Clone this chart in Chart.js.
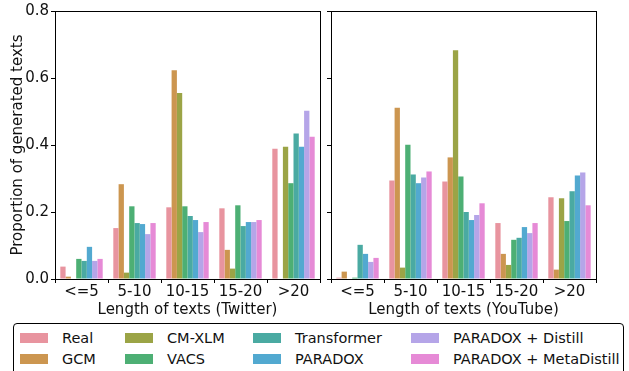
<!DOCTYPE html>
<html>
<head>
<meta charset="utf-8">
<script src="https://cdn.jsdelivr.net/npm/chart.js@4/dist/chart.umd.min.js"></script>
<style>
  body { margin: 0; background: #fff; font-family: "DejaVu Sans", sans-serif; }
  #wrap { position: relative; width: 629px; height: 371px; overflow: hidden; }
  #c1 { position: absolute; left: 0; top: 0; }
  #c2 { position: absolute; left: 320px; top: 0; }
  #legend {
    position: absolute; left: 13px; top: 323px; width: 611px; height: 60px;
    border: 1.5px solid #000; border-radius: 4px; box-sizing: border-box;
    display: grid; grid-template-columns: 105px 128px 158px auto; grid-template-rows: 21px 21px;
    padding: 3px 0 0 6px; font-size: 14.5px; color: #111;
  }
  .item { display: flex; align-items: center; white-space: nowrap; }
  .sw { width: 28px; height: 10px; margin-right: 14px; }
</style>
</head>
<body>
<div id="wrap">
  <canvas id="c1" width="325" height="320"></canvas>
  <canvas id="c2" width="309" height="320"></canvas>
  <div id="legend"></div>
</div>
<script>
// categorías de longitud
const categorias = ['<=5', '5-10', '10-15', '15-20', '>20'];
const series = ['Real', 'GCM', 'CM-XLM', 'VACS', 'Transformer', 'PARADOX', 'PARADOX + Distill', 'PARADOX + MetaDistill'];
const colores = ['#e8949f', '#cc9650', '#9ba446', '#4daf74', '#4aaaa2', '#52a9d0', '#b5a5e8', '#e68ad6'];

// Twitter
const twReal    = [0.037, 0.152, 0.214, 0.211, 0.389];
const twGCM     = [0.007, 0.283, 0.623, 0.087, 0.0];
const twCMXLM   = [0.0,   0.019, 0.555, 0.031, 0.395];
const twVACS    = [0.060, 0.217, 0.217, 0.220, 0.286];
const twTrans   = [0.054, 0.167, 0.188, 0.158, 0.434];
const twParadox = [0.096, 0.164, 0.176, 0.170, 0.395];
const twDistill = [0.054, 0.134, 0.140, 0.170, 0.502];
const twMeta    = [0.060, 0.167, 0.170, 0.176, 0.425];

// YouTube
const ytReal    = [0.004, 0.294, 0.291, 0.167, 0.244];
const ytGCM     = [0.022, 0.511, 0.363, 0.075, 0.028];
const ytCMXLM   = [0.0,   0.034, 0.683, 0.042, 0.241];
const ytVACS    = [0.004, 0.401, 0.306, 0.117, 0.173];
const ytTrans   = [0.102, 0.312, 0.200, 0.123, 0.262];
const ytParadox = [0.075, 0.286, 0.176, 0.155, 0.309];
const ytDistill = [0.051, 0.303, 0.191, 0.137, 0.318];
const ytMeta    = [0.063, 0.321, 0.226, 0.167, 0.220];

const twitter = [twReal, twGCM, twCMXLM, twVACS, twTrans, twParadox, twDistill, twMeta];
const youtube = [ytReal, ytGCM, ytCMXLM, ytVACS, ytTrans, ytParadox, ytDistill, ytMeta];

const fuente = { family: 'DejaVu Sans', size: 15 };

// marco completo alrededor del área del gráfico
const marco = {
    id: 'marco',
    afterDraw(chart) {
        const a = chart.chartArea;
        const ctx = chart.ctx;
        ctx.save();
        ctx.strokeStyle = '#000';
        ctx.lineWidth = 1;
        ctx.strokeRect(Math.round(a.left) + 0.5, Math.round(a.top) + 0.5, Math.round(a.right - a.left), Math.round(a.bottom - a.top));
        ctx.restore();
    }
};

function crearGrafico(id, valores, tituloX, conEtiquetasY, anchoY, padDerecha) {
    return new Chart(document.getElementById(id), {
        type: 'bar',
        data: {
            labels: categorias,
            datasets: series.map((s, i) => ({
                label: s,
                data: valores[i],
                backgroundColor: colores[i],
                borderWidth: 0,
                categoryPercentage: 0.8,
                barPercentage: 1.0
            }))
        },
        options: {
            responsive: false,
            animation: false,
            layout: { padding: { top: 9, right: padDerecha, left: 0, bottom: 1 } },
            plugins: { legend: { display: false }, tooltip: { enabled: false } },
            scales: {
                x: {
                    grid: { display: true, drawOnChartArea: false, drawTicks: true, tickLength: 4, color: '#000' },
                    border: { display: false },
                    ticks: { color: '#111', font: fuente, padding: 0, maxRotation: 0 },
                    title: { display: true, text: tituloX, color: '#111', font: fuente, padding: { top: 0, bottom: 0 } },
                    afterFit(scale) { scale.height = 40; }
                },
                y: {
                    min: 0, max: 0.8,
                    grid: { display: true, drawOnChartArea: false, drawTicks: true, tickLength: 4, color: '#000' },
                    border: { display: false },
                    ticks: {
                        stepSize: 0.2, color: '#111', font: fuente, padding: 2,
                        callback: v => conEtiquetasY ? v.toFixed(1) : ''
                    },
                    title: {
                        display: conEtiquetasY, text: 'Proportion of generated texts',
                        color: '#111', font: fuente, padding: { top: 9, bottom: 0 }
                    },
                    afterFit(scale) { scale.width = anchoY; }
                }
            }
        },
        plugins: [marco]
    });
}

crearGrafico('c1', twitter, 'Length of texts (Twitter)', true, 55, 5);
crearGrafico('c2', youtube, 'Length of texts (YouTube)', false, 11, 33);

// leyenda: orden por columnas (2 filas)
const leyenda = document.getElementById('legend');
series.forEach((s, i) => {
    const item = document.createElement('div');
    item.className = 'item';
    item.style.gridColumn = String(Math.floor(i / 2) + 1);
    item.style.gridRow = String((i % 2) + 1);
    item.innerHTML = `<span class="sw" style="background:${colores[i]}"></span><span>${s}</span>`;
    leyenda.appendChild(item);
});
</script>
</body>
</html>
